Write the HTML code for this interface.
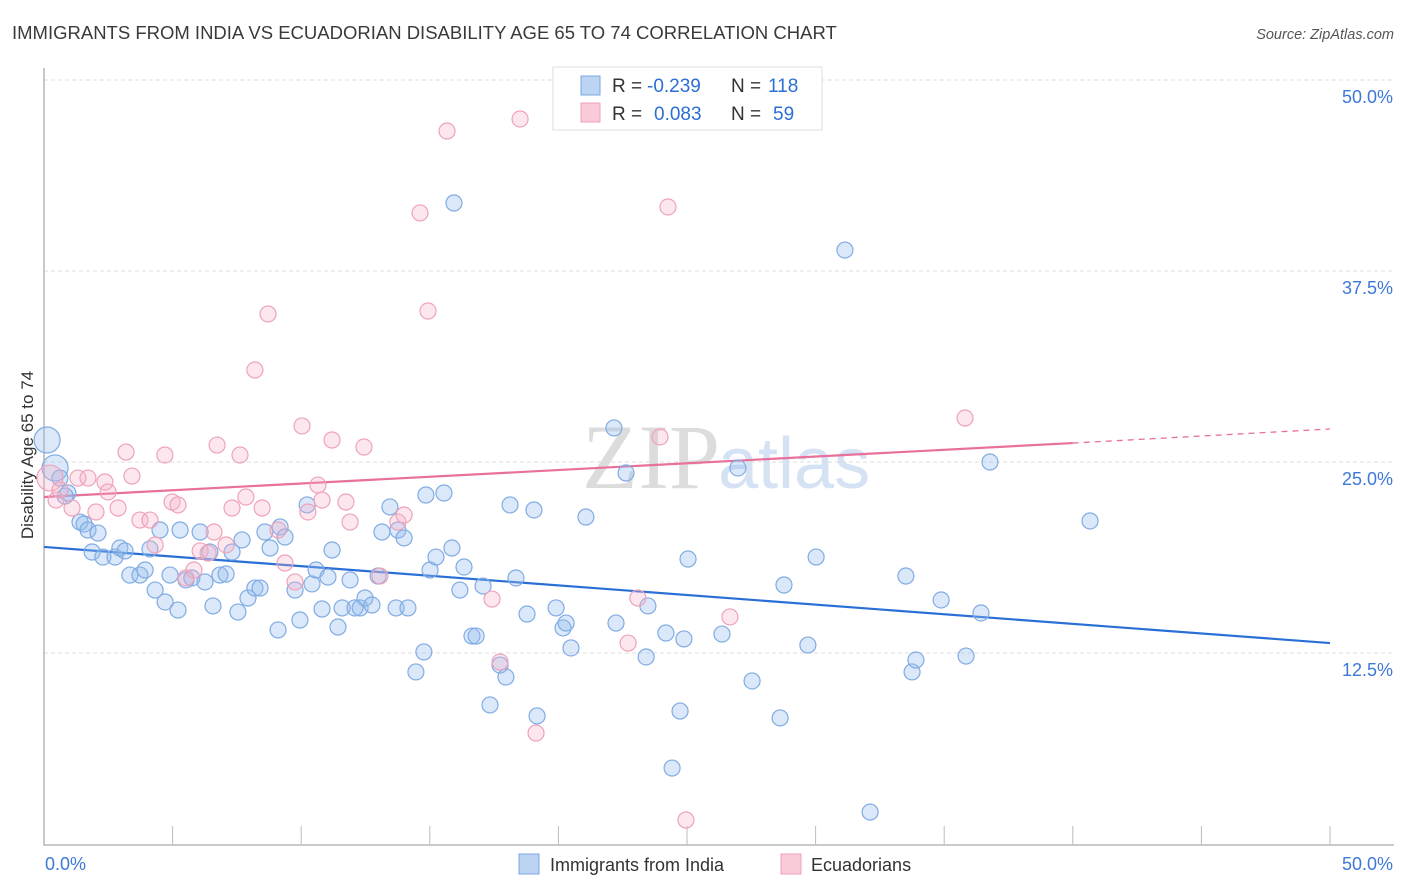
<!DOCTYPE html>
<html><head><meta charset="utf-8"><style>
body{margin:0;background:#fff;font-family:"Liberation Sans",sans-serif}
svg{display:block}
</style></head><body>
<svg id="chart" width="1406" height="892">
<text x="12" y="39" font-size="18.5" fill="#3a3a3a">IMMIGRANTS FROM INDIA VS ECUADORIAN DISABILITY AGE 65 TO 74 CORRELATION CHART</text>
<text x="1394" y="39" font-size="14.5" fill="#555" font-style="italic" text-anchor="end">Source: ZipAtlas.com</text>
<text x="720" y="488" font-size="92" font-family="Liberation Serif" fill="#dcdcdc" text-anchor="end">ZIP</text>
<text x="718" y="488" font-size="72" fill="#d4e2f4">atlas</text>
<g id="grid"></g><g id="axes"></g><g id="lines"></g><g id="pts"></g>
<text transform="translate(33,455) rotate(-90)" font-size="17" fill="#333" text-anchor="middle">Disability Age 65 to 74</text>
<g>
<rect x="553" y="67" width="269" height="63" fill="#fff" stroke="#ddd"/>
<rect x="581" y="76" width="19" height="19" fill="#bcd4f4" stroke="#7aa6e0"/>
<rect x="581" y="103" width="19" height="19" fill="#f9cbd9" stroke="#eea0b8"/>
<text x="612" y="92" font-size="19" fill="#333">R =</text>
<text x="647" y="92" font-size="19" fill="#2a6fd6">-0.239</text>
<text x="731" y="92" font-size="19" fill="#333">N =</text>
<text x="768" y="92" font-size="19" fill="#2a6fd6">118</text>
<text x="612" y="120" font-size="19" fill="#333">R =</text>
<text x="654" y="120" font-size="19" fill="#2a6fd6">0.083</text>
<text x="731" y="120" font-size="19" fill="#333">N =</text>
<text x="773" y="120" font-size="19" fill="#2a6fd6">59</text>
</g>
<g>
<rect x="519" y="854" width="20" height="20" fill="#bcd4f4" stroke="#7aa6e0"/>
<text x="550" y="871" font-size="18" fill="#333">Immigrants from India</text>
<rect x="781" y="854" width="20" height="20" fill="#f9cbd9" stroke="#eea0b8"/>
<text x="811" y="871" font-size="18" fill="#333">Ecuadorians</text>
</g>
</svg>
<script>
const yTicks=[12.5,25,37.5,50];
const yTickLabels=["12.5%","25.0%","37.5%","50.0%"];
const blueX=[0.12,0.43,0.62,0.93,0.82,1.40,1.56,1.71,2.10,1.87,2.29,2.76,2.95,3.15,3.34,3.73,3.93,4.12,4.32,4.51,4.71,4.90,5.21,5.29,5.52,5.75,6.07,6.26,6.45,6.57,6.84,7.08,7.31,7.54,7.70,7.93,8.20,8.40,8.59,8.79,9.10,9.18,9.37,9.76,9.95,10.23,10.42,10.58,10.81,11.04,11.20,11.43,11.59,11.90,12.09,12.29,12.48,12.75,12.99,13.14,13.45,13.69,13.76,14.00,14.15,14.46,14.77,14.85,15.01,15.24,15.55,15.86,16.17,16.33,15.94,16.64,16.80,17.07,17.73,17.96,17.34,18.12,18.35,18.78,19.05,19.17,19.91,20.18,20.30,20.49,21.07,22.16,22.24,22.63,23.41,23.48,24.18,24.73,24.88,24.42,25.04,26.36,26.98,27.53,28.62,28.77,29.70,30.02,31.14,32.12,33.51,33.75,33.90,34.88,35.85,36.43,36.78,40.67];
const blueY=[26.44,24.61,23.95,22.97,22.77,21.07,20.94,20.55,20.35,19.11,18.78,18.78,19.37,19.18,17.60,17.60,17.93,19.31,16.62,20.55,15.84,17.60,15.31,20.55,17.28,17.41,20.42,17.15,19.11,15.58,17.60,17.67,19.11,15.18,19.90,16.10,16.75,16.75,20.42,19.37,14.01,20.75,20.09,16.62,14.66,22.19,17.02,17.93,15.38,17.47,19.24,14.20,15.45,17.28,15.45,15.45,16.10,15.64,17.54,20.42,22.06,15.45,20.55,20.03,15.45,11.26,12.57,22.84,17.93,18.78,22.97,19.37,16.62,18.13,41.95,13.61,13.61,16.88,11.71,10.93,9.10,22.19,17.41,15.05,21.86,8.38,15.45,14.14,14.46,12.83,21.40,27.23,14.46,24.28,12.24,15.58,13.81,8.70,13.42,4.97,18.65,13.74,24.61,10.67,8.25,16.95,13.02,18.78,38.87,2.09,17.54,11.26,12.04,15.97,12.30,15.12,25.00,21.14];
const pinkX=[0.23,0.47,0.62,1.09,1.32,1.71,2.02,2.37,2.49,2.88,3.19,3.42,3.73,4.12,4.32,4.70,4.98,5.21,5.52,5.83,6.07,6.38,6.61,6.73,7.08,7.31,7.62,7.85,8.20,8.48,8.71,9.10,9.37,9.76,10.03,10.26,10.65,10.81,11.20,11.74,11.90,12.44,13.06,13.76,14.00,14.62,14.93,15.67,17.42,17.73,18.51,19.13,22.71,23.09,23.95,24.26,24.96,26.67,35.81];
const pinkY=[23.95,22.51,23.17,21.99,23.95,23.95,21.73,23.69,23.04,21.99,25.65,24.08,21.20,21.20,19.57,25.46,22.38,22.19,17.41,17.93,19.18,19.04,20.42,26.11,19.57,21.99,25.46,22.71,31.02,21.99,34.69,20.55,18.39,17.15,27.36,21.73,23.49,22.51,26.44,22.38,21.07,25.98,17.54,21.07,21.53,41.30,34.88,46.66,16.03,11.91,47.45,7.26,13.15,16.10,26.64,41.69,1.57,14.86,27.88];
const blueTrend=[19.44,13.15];
const pinkTrend=[22.71,26.24,27.16];
const pinkSolidEnd=40;
const NS="http://www.w3.org/2000/svg";
const X=v=>44+v*25.72, Y=v=>844-v*15.28;
function mk(t,a,p){const e=document.createElementNS(NS,t);for(const k in a)e.setAttribute(k,a[k]);document.getElementById(p).appendChild(e);return e;}
yTicks.forEach((t,i)=>{
 let g=mk('line',{x1:44,x2:1394,y1:Y(t),y2:Y(t),stroke:'#ddd','stroke-dasharray':'4,3'},'grid');
 
 
 let l=mk('text',{x:1393,y:Y(t)+23,'font-size':18,fill:'#3d78d8','text-anchor':'end'},'grid');
 l.textContent=yTickLabels[i];
 
 
});
let ax=mk('path',{d:'M44,68V845H1394',fill:'none',stroke:'#aaa','stroke-width':1.3},'axes');


for(let k=1;k<=10;k++){let t=mk('line',{x1:X(k*5),x2:X(k*5),y1:826,y2:845,stroke:'#bbb'},'axes');
 
 }
let x0=mk('text',{x:45,y:870,'font-size':18,fill:'#3d78d8'},'axes');x0.textContent='0.0%';


let x1=mk('text',{x:1393,y:870,'font-size':18,fill:'#3d78d8','text-anchor':'end'},'axes');x1.textContent='50.0%';


blueX.forEach((v,i)=>{const r=i<2?13:8;let c=mk('circle',{cx:X(v),cy:Y(blueY[i]),r:r,fill:'rgba(150,188,238,0.35)',stroke:'#80abe3','stroke-width':1.2},'pts');
 
 });
pinkX.forEach((v,i)=>{const r=i<1?13:8;let c=mk('circle',{cx:X(v),cy:Y(pinkY[i]),r:r,fill:'rgba(246,176,198,0.3)',stroke:'#efa2ba','stroke-width':1.2},'pts');
 
 });
let bl=mk('line',{x1:X(0),y1:Y(blueTrend[0]),x2:X(50),y2:Y(blueTrend[1]),stroke:'#2a6fd6','stroke-width':2.2},'lines');


let pl=mk('line',{x1:X(0),y1:Y(pinkTrend[0]),x2:X(pinkSolidEnd),y2:Y(pinkTrend[1]),stroke:'#e8709a','stroke-width':2.2},'lines');


let pd=mk('line',{x1:X(pinkSolidEnd),y1:Y(pinkTrend[1]),x2:X(50),y2:Y(pinkTrend[2]),stroke:'#e8709a','stroke-width':1.3,'stroke-dasharray':'6,5'},'lines');


</script>
</body></html>
